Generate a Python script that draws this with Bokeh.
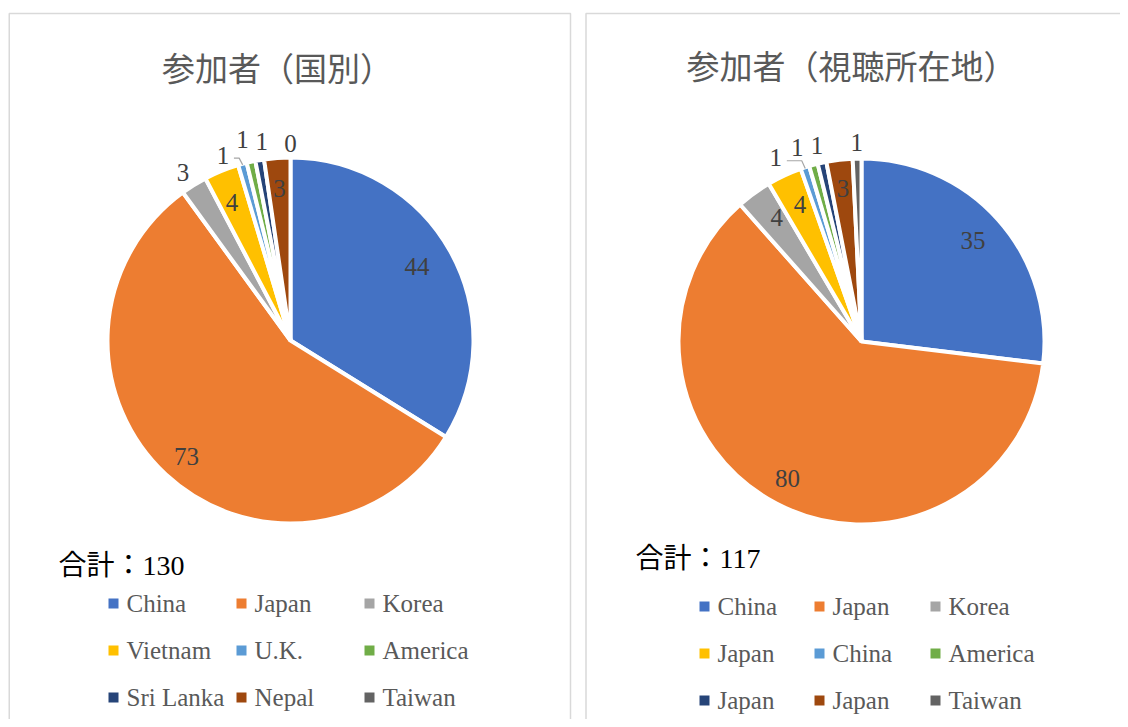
import math
from bokeh.plotting import figure
from bokeh.models import Range1d
from bokeh.embed import file_html
from bokeh.resources import INLINE
from bokeh.core.properties import value

# ---------------- data ----------------
titles = ["参加者（国別）", "参加者（視聴所在地）"]
total_texts = ["合計：130", "合計：117"]

cats_country = ["China", "Japan", "Korea", "Vietnam", "U.K.", "America", "Sri Lanka", "Nepal", "Taiwan"]
vals_country = [44, 73, 3, 4, 1, 1, 1, 3, 0]

cats_location = ["China", "Japan", "Korea", "Japan", "China", "America", "Japan", "Japan", "Taiwan"]
vals_location = [35, 80, 4, 4, 1, 1, 1, 3, 1]

colors = ["#4472C4", "#ED7D31", "#A5A5A5", "#FFC000", "#5B9BD5",
          "#70AD47", "#264478", "#9E480E", "#636363"]

# ---------------- style / layout ----------------
W, H = 1120, 719
def py(y):  # picture y (down) -> data y (up)
    return H - y

# label placement style: radius factor, angle nudge (deg), leader line flag
lab_r = [[0.81, 0.86, 1.10, 0.83, 1.09, 1.14, 1.11, 0.84, 1.09],
         [0.83, 0.86, 0.83, 0.83, 1.12, 1.13, 1.11, 0.85, 1.10]]
lab_da = [[-1.3, -1.0, -0.8, -0.8, -4.8, -1.0, 1.5, 0.0, 0.0],
          [-0.5, 0.7, 1.7, 0.8, -7.0, -3.1, -0.3, 0.0, 0.0]]
leader = [[False, False, False, False, True, False, False, False, False],
          [False, False, False, False, True, False, False, False, False]]

centers = [(290, 340), (861, 341)]
R = 181
GAP = 4
title_pos = [(277, 66), (851, 64)]
total_pos = [(58, 565), (635, 558)]
leg_cols = [[113, 241, 369], [704, 819, 935]]
leg_rows = [[603, 650, 697], [606, 653, 700]]
panels = [(8.75, 570), (585.5, 1140)]

p = figure(width=W, height=H, x_range=Range1d(0, W), y_range=Range1d(0, H),
           output_backend="svg", toolbar_location=None, min_border=0)
p.axis.visible = False
p.grid.visible = False
p.outline_line_color = None
p.background_fill_color = "white"
p.border_fill_color = "white"

# panel borders
p.quad(left=[a for a, b in panels], right=[b for a, b in panels],
       bottom=[py(760)] * 2, top=[py(13)] * 2,
       fill_color=None, line_color="#D9D9D9", line_width=1.5)

datasets = [(cats_country, vals_country), (cats_location, vals_location)]

for k, (cats, vals) in enumerate(datasets):
    cx, cy = centers[k]
    cyd = py(cy)
    total = float(sum(vals))
    cum = [0.0]
    for v in vals:
        cum.append(cum[-1] + v)
    nz = [i for i, v in enumerate(vals) if v > 0]
    starts = [math.radians(90 - cum[i] / total * 360) for i in nz]
    ends = [math.radians(90 - cum[i + 1] / total * 360) for i in nz]
    p.wedge(x=[cx] * len(nz), y=[cyd] * len(nz), radius=R + GAP / 2,
            start_angle=starts, end_angle=ends, direction="clock",
            fill_color=[colors[i] for i in nz], line_color="white", line_width=GAP)

    # data labels
    lx, ly, lt = [], [], []
    for i, v in enumerate(vals):
        mid = (cum[i] + cum[i + 1]) / 2 / total * 360
        th = math.radians(mid + lab_da[k][i])
        d = R * lab_r[k][i]
        x = cx + d * math.sin(th)
        y = cyd + d * math.cos(th)
        lx.append(x); ly.append(y); lt.append(str(v))
        if leader[k][i]:
            tm = math.radians(mid)
            ex = cx + (R + 1) * math.sin(tm)
            ey = cyd + (R + 1) * math.cos(tm)
            sx, sy = x + 11, y - 3
            p.line(x=[sx, ex - 3.5, ex], y=[sy, sy, ey], line_color="#A6A6A6", line_width=1.2)
    p.text(x=lx, y=ly, text=lt, text_align="center", text_baseline="middle",
           text_font=value("Liberation Serif"), text_font_size="25px", text_color="#404040")

    # title
    tx, ty = title_pos[k]
    p.text(x=[tx], y=[py(ty)], text=[titles[k]], text_align="center", text_baseline="middle",
           text_font=value("Noto Sans CJK JP"), text_font_size="33px", text_color="#595959")

    # total
    sx, sy = total_pos[k]
    p.text(x=[sx], y=[py(sy)], text=[total_texts[k]], text_align="left", text_baseline="middle",
           text_font=value("Liberation Serif, Noto Sans CJK JP"), text_font_size="28px",
           text_color="#000000")

    # legend (3 columns)
    gx, gy = [], []
    for i in range(len(cats)):
        gx.append(leg_cols[k][i % 3])
        gy.append(py(leg_rows[k][i // 3]))
    p.rect(x=gx, y=gy, width=10, height=10, fill_color=colors, line_color=None)
    p.text(x=[g + 13 for g in gx], y=gy, text=cats, text_align="left", text_baseline="middle",
           text_font=value("Liberation Serif"), text_font_size="25px", text_color="#595959")

open("out.html", "w").write(file_html(p, INLINE))
